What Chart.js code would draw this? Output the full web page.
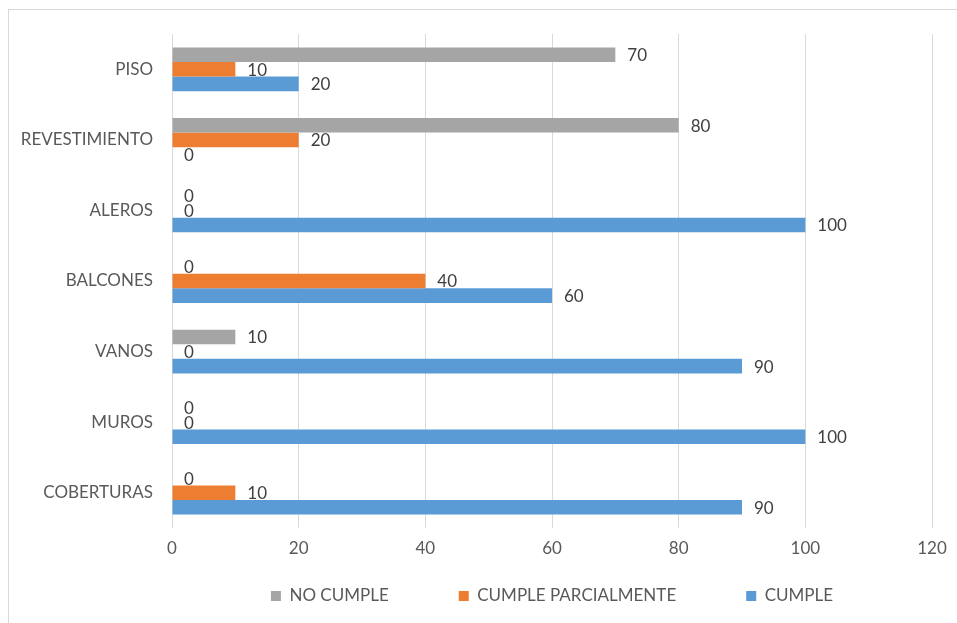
<!DOCTYPE html>
<html>
<head>
<meta charset="utf-8">
<script src="https://cdn.jsdelivr.net/npm/chart.js@4"></script>
<style>
  html, body { margin: 0; padding: 0; background: #ffffff; overflow: hidden; width: 957px; height: 623px; }
  #frame {
    position: absolute; left: 8px; top: 9px; width: 1200px; height: 700px;
    border-left: 1px solid #d9d9d9; border-top: 1px solid #d9d9d9;
  }
  #chart { display: block; }
</style>
</head>
<body>
<div id="frame"><canvas id="chart" width="948" height="615"></canvas></div>
<script>
  const categories = ["PISO", "REVESTIMIENTO", "ALEROS", "BALCONES", "VANOS", "MUROS", "COBERTURAS"];
  const noCumple = [70, 80, 0, 0, 10, 0, 0];
  const cumpleParcial = [10, 20, 0, 40, 0, 0, 10];
  const cumple = [20, 0, 100, 60, 90, 100, 90];
  const xTicks = [0, 20, 40, 60, 80, 100, 120];

  const textColor = "#595959";
  const font = { family: "Lato, 'Open Sans', sans-serif", size: 17 };

  Chart.defaults.font.family = font.family;
  Chart.defaults.color = textColor;

  // etiquetas de valor al final de cada barra
  const valueLabels = {
    id: "valueLabels",
    afterDatasetsDraw(chart) {
      const ctx = chart.ctx;
      ctx.save();
      ctx.font = font.size + "px " + font.family;
      ctx.fillStyle = "#404040";
      ctx.textAlign = "left";
      ctx.textBaseline = "middle";
      chart.data.datasets.forEach((ds, i) => {
        chart.getDatasetMeta(i).data.forEach((bar, j) => {
          ctx.fillText(String(ds.data[j]), bar.x + 12, bar.y + 1);
        });
      });
      ctx.restore();
    },
  };

  new Chart(document.getElementById("chart"), {
    type: "bar",
    data: {
      labels: categories,
      datasets: [
        { label: "NO CUMPLE", data: noCumple, backgroundColor: "#a5a5a5" },
        { label: "CUMPLE PARCIALMENTE", data: cumpleParcial, backgroundColor: "#ed7d31" },
        { label: "CUMPLE", data: cumple, backgroundColor: "#5b9bd5" },
      ],
    },
    options: {
      responsive: false,
      animation: false,
      indexAxis: "y",
      layout: { padding: { top: 24, right: 25, left: 0, bottom: 0 } },
      datasets: { bar: { categoryPercentage: 0.62, barPercentage: 1.0 } },
      plugins: {
        legend: {
          position: "bottom",
          fullSize: false,
          labels: { font: font, color: textColor, boxWidth: 10, boxHeight: 10, padding: 70 },
        },
        tooltip: { enabled: false },
      },
      scales: {
        x: {
          min: 0,
          max: 120,
          afterBuildTicks: (scale) => { scale.ticks = xTicks.map((v) => ({ value: v })); },
          grid: { color: "#d9d9d9", drawTicks: false },
          border: { display: false },
          // mirrored labels are not clipped to the axis box, pushed below the plot by the negative padding
          ticks: { font: font, color: textColor, mirror: true, padding: -31 },
          // the legend's wide item spacing also pads it vertically, so the axis gives that room back
          afterFit: (scale) => { scale.height = -10.5; },
        },
        y: {
          grid: { display: false, drawTicks: true, tickLength: 19 },
          border: { display: false },
          ticks: { font: font, color: textColor, padding: 0 },
          afterFit: (scale) => { scale.width = 163; },
        },
      },
    },
    plugins: [valueLabels],
  });
</script>
</body>
</html>
